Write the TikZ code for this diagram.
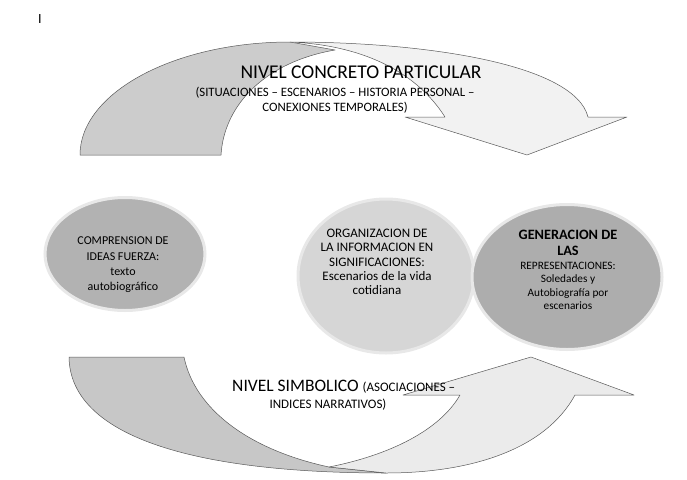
\documentclass[tikz,border=0pt]{standalone}
\usepackage{fontspec}
\setmainfont{Carlito}
\usetikzlibrary{shapes.geometric}

\tikzset{
  band/.style={draw=black!65, line width=0.5pt, line join=round},
  bubble/.style={ellipse, draw=black!9, line width=3pt, inner sep=0pt},
  label/.style={align=center, inner sep=0pt, text=black},
}

\begin{document}
\begin{tikzpicture}[x=1pt, y=-1pt]
  \useasboundingbox (0,0) rectangle (687,479);

  \node[label] (mark) at (40,19) {\fontsize{14}{14}\selectfont I};

  % upper curved arrow
  \fill[band, fill=black!20] (80,155) -- (221,155)
    .. controls (224,105) and (265,62) .. (335,50) -- (290,42)
    .. controls (174,42) and (80,93) .. (80,155) -- cycle;
  \fill[band, fill=black!5] (290,42) .. controls (430,42) and (575,65) .. (588,117)
    -- (627,117) -- (527,155) -- (405,117) -- (445,117)
    .. controls (415,70) and (360,45) .. (290,42) -- cycle;

  % lower curved arrow
  \fill[band, fill=black!22] (69,357) -- (184,357)
    .. controls (195,410) and (250,450) .. (329,467) -- (386,473)
    .. controls (190,473) and (70,435) .. (69,357) -- cycle;
  \fill[band, fill=black!8] (329,467) .. controls (390,455) and (440,430) .. (460,395)
    -- (403,395) -- (531,357) -- (634,395) -- (575,395)
    .. controls (545,450) and (470,473) .. (386,473) -- cycle;

  % bubbles
  \node[bubble, fill=black!30, minimum width=160pt, minimum height=113pt] (comp) at (125,254) {};
  \node[bubble, fill=black!16, minimum width=176pt, minimum height=154pt] (orga) at (386,276) {};
  \node[bubble, fill=black!32, minimum width=190pt, minimum height=145pt] (gene) at (567,277) {};

  \node[label, font=\fontsize{12}{15.3}\selectfont] (comptext) at (123,265)
    {COMPRENSION DE\\IDEAS FUERZA:\\texto\\autobiográfico};
  \node[label, font=\fontsize{13}{14.4}\selectfont] (orgatext) at (377,262)
    {ORGANIZACION DE\\LA INFORMACION EN\\SIGNIFICACIONES:\\Escenarios de la vida\\cotidiana};
  \node[label, font=\fontsize{14.3}{16}\selectfont\bfseries] (genetitle) at (568,243)
    {GENERACION DE\\LAS};
  \node[label, font=\fontsize{11.3}{13.5}\selectfont] (genetext) at (568,286)
    {REPRESENTACIONES:\\Soledades y\\Autobiografía por\\escenarios};

  % level labels
  \node[label, font=\fontsize{19.5}{19.5}\selectfont] (concreto) at (361,72) {NIVEL CONCRETO PARTICULAR};
  \node[label, font=\fontsize{12.8}{15}\selectfont] (concretosub) at (335,100)
    {(SITUACIONES – ESCENARIOS – HISTORIA PERSONAL –\\CONEXIONES TEMPORALES)};
  \node[label, anchor=west] (simbolico) at (232,387)
    {\fontsize{17.5}{17.5}\selectfont NIVEL SIMBOLICO \fontsize{13}{13}\selectfont(ASOCIACIONES –};
  \node[label, font=\fontsize{13}{13}\selectfont] (simbolicosub) at (328,405) {INDICES NARRATIVOS)};
\end{tikzpicture}
\end{document}
